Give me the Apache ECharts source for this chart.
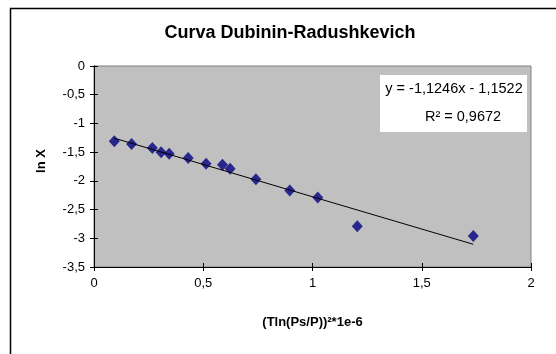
<!DOCTYPE html>
<html><head><meta charset="utf-8">
<script src="https://cdn.jsdelivr.net/npm/echarts@6/dist/echarts.min.js"></script>
<style>html,body{margin:0;padding:0;background:#fff}#c{width:556px;height:354px}</style>
</head><body><div id="c"></div>
<script>
// Data
var xValues = [0.093, 0.172, 0.267, 0.307, 0.344, 0.431, 0.513, 0.588, 0.623, 0.741, 0.896, 1.024, 1.205, 1.736];
var yValues = [-1.31, -1.36, -1.43, -1.50, -1.53, -1.60, -1.70, -1.72, -1.79, -1.97, -2.17, -2.29, -2.79, -2.96];
var trendSlope = -1.1246;
var trendIntercept = -1.1522;
var rSquared = '0,9672';
var titleText = 'Curva Dubinin-Radushkevich';
var xName = '(Tln(Ps/P))²*1e-6';
var yName = 'ln X';

var FONT = '"Liberation Sans", Arial, sans-serif';
var pts = xValues.map(function (x, i) { return [x, yValues[i]]; });
var xmin = Math.min.apply(null, xValues), xmax = Math.max.apply(null, xValues);
var trend = [[xmin, trendSlope * xmin + trendIntercept], [xmax, trendSlope * xmax + trendIntercept]];
function fmt(v) { return String(v).replace('.', ','); }

var chart = echarts.init(document.getElementById('c'), null, { renderer: 'canvas' });
var G = { left: 94, top: 66, width: 437, height: 201 };
var axisCommon = {
  axisLine: { show: true, onZero: false, lineStyle: { color: '#000', width: 1 } },
  splitLine: { show: false }
};
chart.setOption({
  animation: false,
  backgroundColor: '#fff',
  grid: Object.assign({ show: true, backgroundColor: '#C0C0C0', borderColor: '#808080', borderWidth: 1 }, G),
  xAxis: [
    Object.assign({}, axisCommon, {
      type: 'value', min: 0, max: 2, interval: 0.5, position: 'bottom',
      axisTick: { show: true, inside: false, length: 4, lineStyle: { color: '#000' } },
      axisLabel: { formatter: fmt, color: '#000', fontFamily: FONT, fontSize: 13, margin: 10 },
      name: xName, nameLocation: 'middle', nameGap: 49,
      nameTextStyle: { color: '#000', fontFamily: FONT, fontSize: 13, fontWeight: 'bold' }
    }),
    Object.assign({}, axisCommon, {
      type: 'value', min: 0, max: 2, interval: 0.5, position: 'bottom', offset: 0,
      axisTick: { show: true, inside: true, length: 4, lineStyle: { color: '#000' } },
      axisLabel: { show: false }
    })
  ],
  yAxis: [
    Object.assign({}, axisCommon, {
      type: 'value', min: -3.5, max: 0, interval: 0.5, position: 'left',
      axisTick: { show: true, inside: false, length: 4, lineStyle: { color: '#000' } },
      axisLabel: { formatter: fmt, color: '#000', fontFamily: FONT, fontSize: 13, margin: 9 }
    }),
    Object.assign({}, axisCommon, {
      type: 'value', min: -3.5, max: 0, interval: 0.5, position: 'left', offset: 0,
      axisTick: { show: true, inside: true, length: 4, lineStyle: { color: '#000' } },
      axisLabel: { show: false }
    })
  ],
  series: [
    { type: 'scatter', data: pts, symbol: 'diamond', symbolSize: [11, 12],
      itemStyle: { color: '#000080' }, z: 2, xAxisIndex: 0, yAxisIndex: 0 },
    { type: 'line', data: trend, symbol: 'none', lineStyle: { color: '#000', width: 1 },
      z: 3, xAxisIndex: 0, yAxisIndex: 0, silent: true }
  ],
  graphic: [
    { type: 'rect', shape: { x: 10.5, y: 8.5, width: 600, height: 400 },
      style: { fill: 'none', stroke: '#000', lineWidth: 1.5 }, silent: true, z: 0 },
    { type: 'text', x: 290, y: 33, z: 10,
      style: { text: titleText, font: 'bold 18px ' + FONT, fill: '#000', textAlign: 'center', textVerticalAlign: 'middle' } },
    { type: 'text', x: 41, y: 161, rotation: Math.PI / 2, z: 10,
      style: { text: yName, font: 'bold 13px ' + FONT, fill: '#000', textAlign: 'center', textVerticalAlign: 'middle' } },
    { type: 'rect', shape: { x: 380, y: 75, width: 147, height: 57 },
      style: { fill: '#fff', stroke: 'none' }, z: 10 },
    { type: 'text', x: 454, y: 89, z: 11,
      style: { text: 'y = -1,1246x - 1,1522', font: '14.5px ' + FONT, fill: '#000', textAlign: 'center', textVerticalAlign: 'middle' } },
    { type: 'text', x: 463, y: 117, z: 11,
      style: { text: 'R² = ' + rSquared, font: '14.5px ' + FONT, fill: '#000', textAlign: 'center', textVerticalAlign: 'middle' } }
  ]
});
</script>
</body></html>
